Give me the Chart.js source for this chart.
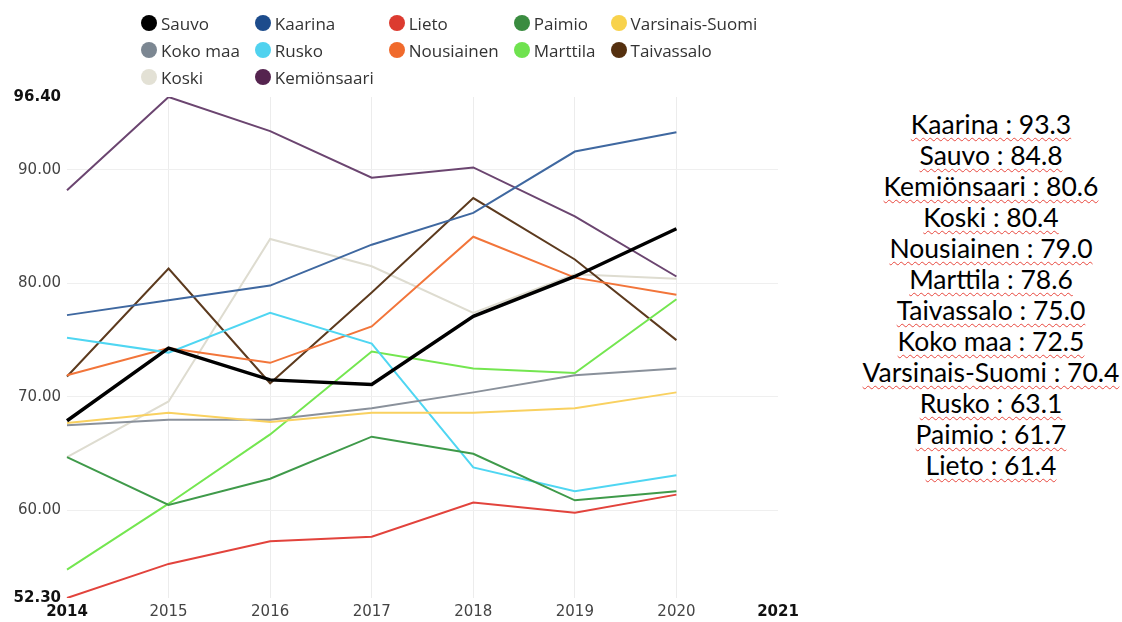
<!DOCTYPE html>
<html>
<head>
    <title>Municipality trend</title>
    <script src="https://cdn.jsdelivr.net/npm/chart.js"></script>
    <style>
        body { margin: 0; background: #fff; }
        #wrap { position: relative; width: 1122px; height: 622px; overflow: hidden; }
        #chartBox { position: absolute; left: 0; top: 0; width: 800px; height: 622px; }
        #legend {
            position: absolute; left: 141px; top: 12px;
            display: grid; grid-template-columns: repeat(5, auto);
            column-gap: 15px; row-gap: 5px;
            font-family: "Open Sans", sans-serif; font-size: 17px; color: #333;
        }
        #legend .item { display: flex; align-items: center; height: 22px; white-space: nowrap; }
        #legend .dot { width: 16px; height: 16px; border-radius: 50%; margin-right: 4px; }
        #ranking {
            position: absolute; left: 845px; top: 109px; width: 292px;
            text-align: center; font-family: Lato, sans-serif; font-size: 26.5px;
            line-height: 31px; color: #000;
        }
        #ranking div span {
            text-decoration: underline wavy #e8483e;
            text-decoration-thickness: 1px;
            text-underline-offset: 3px;
        }
    </style>
</head>
<body>
<div id="wrap">
    <div id="chartBox"><canvas id="lineChart"></canvas></div>
    <div id="legend"></div>
    <div id="ranking"></div>
</div>

<script>
    // data
    const years = ['2014', '2015', '2016', '2017', '2018', '2019', '2020', '2021'];
    const yTicks = [52.3, 60, 70, 80, 90, 96.4];

    const sauvo          = [67.9, 74.3, 71.5, 71.1, 77.1, 80.6, 84.8];
    const kaarina        = [77.2, 78.5, 79.8, 83.4, 86.2, 91.6, 93.3];
    const lieto          = [52.3, 55.3, 57.3, 57.7, 60.7, 59.8, 61.4];
    const paimio         = [64.7, 60.5, 62.8, 66.5, 65.0, 60.9, 61.7];
    const varsinaisSuomi = [67.7, 68.6, 67.8, 68.6, 68.6, 69.0, 70.4];
    const kokoMaa        = [67.5, 68.0, 68.0, 69.0, 70.4, 71.9, 72.5];
    const rusko          = [75.2, 73.9, 77.4, 74.7, 63.8, 61.7, 63.1];
    const nousiainen     = [71.9, 74.3, 73.0, 76.2, 84.1, 80.5, 79.0];
    const marttila       = [54.8, 60.6, 66.7, 74.0, 72.5, 72.1, 78.6];
    const taivassalo     = [71.8, 81.3, 71.2, 79.2, 87.5, 82.1, 75.0];
    const koski          = [64.7, 69.6, 83.9, 81.5, 77.4, 80.8, 80.4];
    const kemionsaari    = [88.2, 96.4, 93.4, 89.3, 90.2, 85.9, 80.6];

    const series = [
        { label: 'Sauvo', data: sauvo, color: '#000000', dot: '#000000', width: 3.5 },
        { label: 'Kaarina', data: kaarina, color: '#3f68a0', dot: '#1d4c8c', width: 2 },
        { label: 'Lieto', data: lieto, color: '#e2433c', dot: '#dc3b30', width: 2 },
        { label: 'Paimio', data: paimio, color: '#3f9a4a', dot: '#3a8c40', width: 2 },
        { label: 'Varsinais-Suomi', data: varsinaisSuomi, color: '#f9d160', dot: '#f8d24c', width: 2 },
        { label: 'Koko maa', data: kokoMaa, color: '#8a919b', dot: '#7c8792', width: 2 },
        { label: 'Rusko', data: rusko, color: '#4fd6f2', dot: '#50d2ef', width: 2 },
        { label: 'Nousiainen', data: nousiainen, color: '#f2753a', dot: '#f06a2c', width: 2 },
        { label: 'Marttila', data: marttila, color: '#74e650', dot: '#6fe24f', width: 2 },
        { label: 'Taivassalo', data: taivassalo, color: '#5c3a1e', dot: '#55300f', width: 2 },
        { label: 'Koski', data: koski, color: '#dedcd0', dot: '#e3e1d5', width: 2 },
        { label: 'Kemiönsaari', data: kemionsaari, color: '#6b4570', dot: '#55244f', width: 2 }
    ];

    const isEnd = (i, n) => i === 0 || i === n - 1;

    const ctx = document.getElementById('lineChart').getContext('2d');
    const chart = new Chart(ctx, {
        type: 'line',
        data: {
            labels: years,
            datasets: series.map(s => ({
                label: s.label,
                data: s.data,
                borderColor: s.color,
                backgroundColor: s.dot,
                borderWidth: s.width,
                pointRadius: 0,
                tension: 0,
                fill: false
            }))
        },
        options: {
            responsive: true,
            maintainAspectRatio: false,
            animation: false,
            layout: { padding: { top: 97, right: 22, left: 0, bottom: 0 } },
            plugins: {
                legend: { display: false },
                tooltip: { enabled: false }
            },
            scales: {
                x: {
                    afterFit: scale => {
                        scale.height = 24;
                        scale.paddingLeft = 0;
                        scale.paddingRight = 0;
                    },
                    border: { display: false },
                    grid: {
                        drawTicks: false,
                        color: c => isEnd(c.index, years.length) ? 'rgba(0,0,0,0)' : '#ececec'
                    },
                    ticks: {
                        padding: 5,
                        maxRotation: 0,
                        color: c => isEnd(c.index, years.length) ? '#111' : '#444',
                        font: c => ({ family: 'DejaVu Sans', size: 15,
                            weight: isEnd(c.index, years.length) ? 'bold' : 'normal' })
                    }
                },
                y: {
                    min: 52.3,
                    max: 96.4,
                    afterFit: scale => { scale.width = 67; },
                    afterBuildTicks: scale => { scale.ticks = yTicks.map(v => ({ value: v })); },
                    border: { display: false },
                    grid: {
                        drawTicks: false,
                        color: c => isEnd(c.index, yTicks.length) ? 'rgba(0,0,0,0)' : '#efefef'
                    },
                    ticks: {
                        padding: 6,
                        color: c => isEnd(c.index, yTicks.length) ? '#111' : '#444',
                        font: c => ({ family: 'DejaVu Sans', size: 15,
                            weight: isEnd(c.index, yTicks.length) ? 'bold' : 'normal' }),
                        callback: v => Number(v).toFixed(2)
                    }
                }
            }
        }
    });

    // legend as a 5 column grid
    const legend = document.getElementById('legend');
    series.forEach(s => {
        const item = document.createElement('div');
        item.className = 'item';
        item.innerHTML = '<span class="dot" style="background:' + s.dot + '"></span>' + s.label;
        legend.appendChild(item);
    });

    // last-year ranking on the right
    const ranking = document.getElementById('ranking');
    series
        .map(s => ({ label: s.label, last: s.data[s.data.length - 1] }))
        .sort((a, b) => b.last - a.last)
        .forEach(r => {
            const row = document.createElement('div');
            row.innerHTML = '<span>' + r.label + ' : ' + r.last.toFixed(1) + '</span>';
            ranking.appendChild(row);
        });
</script>
</body>
</html>
